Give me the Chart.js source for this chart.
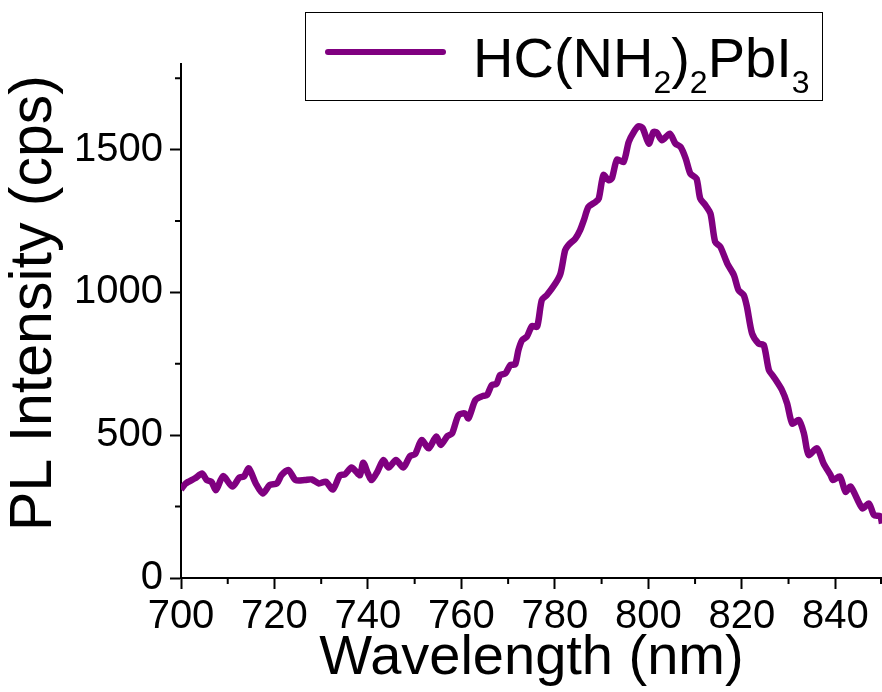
<!DOCTYPE html>
<html>
<head>
<meta charset="utf-8">
<script src="https://cdn.jsdelivr.net/npm/chart.js@4.4.1/dist/chart.umd.min.js"></script>
<style>
  body { margin: 0; background: #fff; }
  #wrap { width: 882px; height: 692px; }
</style>
</head>
<body>
<div id="wrap"><canvas id="plChart"></canvas></div>
<script>
// PL spectrum (nm, cps)
const wavelengths = [
  700, 701, 703, 704.5, 705.5, 706.5, 707.5, 709, 711, 712.5, 713.5, 714.5, 716, 717.5, 719,
  720.5, 721.5, 723, 724.5, 726.5, 728, 729.5, 731, 732.5, 734, 735, 736.5, 737.5, 738.3, 739,
  740, 740.8, 742, 743.3, 744.4, 746, 747.6, 749, 750.1, 751.5, 753, 754.6, 755.6, 757, 758,
  759.4, 760.8, 761.5, 763, 764.5, 765.5, 766.5, 767.5, 768.3, 769.4, 770.5, 771.5, 772.2, 773, 774,
  775.1, 776.2, 777.2, 778.3, 780.1, 781.2, 782.2, 782.9, 784.4, 785.4, 786.2, 787.2, 788.7, 789.4, 790.4,
  791.5, 792.2, 793.3, 794.7, 795.8, 796.9, 797.9, 798.8, 800.1, 801.1, 801.8, 802.9, 804.6, 805.8, 806.9,
  808, 809, 810.3, 811.1, 812.2, 813.3, 814.3, 815.4, 816.9, 818.3, 819.3, 820.4, 821.1, 822.2, 823.6,
  824.7, 825.8, 826.8, 828.6, 829.7, 830.8, 832.2, 833.3, 834.3, 836.1, 837.5, 839, 839.5, 841, 842.2,
  843.3, 845.8, 847.2, 848.3, 849.6, 850
];
const intensities = [
  310, 331, 349, 366, 343, 337, 308, 357, 320, 352, 356, 384, 331, 296, 326,
  331, 360, 378, 343, 343, 345, 331, 337, 310, 360, 362, 387, 372, 360, 404,
  366, 343, 372, 413, 387, 413, 387, 427, 434, 483, 454, 495, 466, 497, 506,
  571, 576, 559, 623, 637, 641, 676, 680, 711, 716, 746, 748, 798, 833, 845,
  882, 880, 973, 991, 1031, 1066, 1148, 1166, 1189, 1218, 1253, 1300, 1317, 1329, 1411,
  1393, 1400, 1465, 1457, 1527, 1562, 1582, 1575, 1521, 1562, 1560, 1533, 1556, 1521, 1510,
  1469, 1416, 1399, 1329, 1306, 1276, 1177, 1160, 1101, 1061, 1008, 991, 950, 856, 821,
  816, 728, 705, 658, 611, 541, 553, 506, 431, 454, 401, 360, 343, 355, 302,
  320, 244, 261, 220, 217, 191
];

const xMajorTicks = [700, 720, 740, 760, 780, 800, 820, 840];
const xMinorTicks = [710, 730, 750, 770, 790, 810, 830, 850];
const yMajorTicks = [0, 500, 1000, 1500];
const yMinorTicks = [250, 750, 1250, 1750];

const seriesLabel = ['HC(NH', '2', ')', '2', 'PbI', '3'];   // odd entries are subscripts
const yTitle = 'PL Intensity (cps)';
const lineColor = '#800080';
const fontFamily = '"Liberation Sans", Arial, sans-serif';

const minorTicks = {
  id: 'minorTicks',
  afterDraw(chart) {
    const ctx = chart.ctx;
    const x = chart.scales.x, y = chart.scales.y;
    const area = chart.chartArea;
    ctx.save();
    ctx.strokeStyle = '#000';
    ctx.lineWidth = 2;
    ctx.beginPath();
    xMinorTicks.forEach(v => {
      const px = Math.min(x.getPixelForValue(v), area.right - 1);
      ctx.moveTo(px, area.bottom);
      ctx.lineTo(px, area.bottom + 6);
    });
    yMinorTicks.forEach(v => {
      const py = y.getPixelForValue(v);
      ctx.moveTo(area.left, py);
      ctx.lineTo(area.left - 6, py);
    });
    ctx.stroke();
    ctx.restore();
  }
};

// y title sits a bit above the axis centre in the original, so draw it here
const yAxisTitle = {
  id: 'yAxisTitle',
  afterDraw(chart) {
    const ctx = chart.ctx;
    ctx.save();
    ctx.translate(35, 303);
    ctx.rotate(-Math.PI / 2);
    ctx.fillStyle = '#000';
    ctx.font = '59px ' + fontFamily;
    ctx.textAlign = 'center';
    ctx.textBaseline = 'middle';
    ctx.fillText(yTitle, 0, 0);
    ctx.restore();
  }
};

// legend with real subscripts
const formulaLegend = {
  id: 'formulaLegend',
  afterDraw(chart) {
    const ctx = chart.ctx;
    ctx.save();
    ctx.fillStyle = '#fff';
    ctx.fillRect(305, 12, 517, 88);
    ctx.strokeStyle = '#000';
    ctx.lineWidth = 1;
    ctx.strokeRect(305.5, 12.5, 517, 88);

    ctx.strokeStyle = lineColor;
    ctx.lineWidth = 6;
    ctx.lineCap = 'round';
    ctx.beginPath();
    ctx.moveTo(328, 52);
    ctx.lineTo(443, 52);
    ctx.stroke();

    ctx.fillStyle = '#000';
    ctx.textBaseline = 'alphabetic';
    let tx = 473;
    seriesLabel.forEach((part, i) => {
      const sub = i % 2 === 1;
      ctx.font = (sub ? '32px ' : '56px ') + fontFamily;
      ctx.fillText(part, tx, sub ? 93 : 77);
      tx += ctx.measureText(part).width;
    });
    ctx.restore();
  }
};

const ctx = document.getElementById('plChart').getContext('2d');
new Chart(ctx, {
  type: 'line',
  data: {
    datasets: [{
      label: 'HC(NH2)2PbI3',
      data: wavelengths.map((w, i) => ({ x: w, y: intensities[i] })),
      borderColor: lineColor,
      borderWidth: 6.5,
      pointRadius: 0,
      tension: 0.25,
      fill: false
    }]
  },
  options: {
    responsive: true,
    maintainAspectRatio: false,
    animation: false,
    layout: { padding: { top: 64, right: 0, left: 0, bottom: 0 } },
    plugins: {
      legend: { display: false },
      tooltip: { enabled: false }
    },
    scales: {
      x: {
        type: 'linear',
        min: 700,
        max: 850,
        afterBuildTicks: s => { s.ticks = xMajorTicks.map(v => ({ value: v })); },
        afterFit: s => { s.height = 114; },
        border: { color: '#000', width: 2 },
        grid: { drawOnChartArea: false, tickLength: 11, tickColor: '#000', tickWidth: 2 },
        ticks: {
          color: '#000',
          padding: 4,
          maxRotation: 0,
          callback: v => String(v),
          font: { family: fontFamily, size: 40 }
        },
        title: {
          display: true,
          text: 'Wavelength (nm)',
          color: '#000',
          padding: { top: 0, bottom: 0 },
          font: { family: fontFamily, size: 56 }
        }
      },
      y: {
        min: 0,
        max: 1800,
        afterBuildTicks: s => { s.ticks = yMajorTicks.map(v => ({ value: v })); },
        afterFit: s => { s.width = 181; },
        border: { color: '#000', width: 2 },
        grid: { drawOnChartArea: false, tickLength: 11, tickColor: '#000', tickWidth: 2 },
        ticks: {
          color: '#000',
          padding: 7,
          callback: v => String(v),
          font: { family: fontFamily, size: 40 }
        },
        title: { display: false }
      }
    }
  },
  plugins: [minorTicks, yAxisTitle, formulaLegend]
});
</script>
</body>
</html>
